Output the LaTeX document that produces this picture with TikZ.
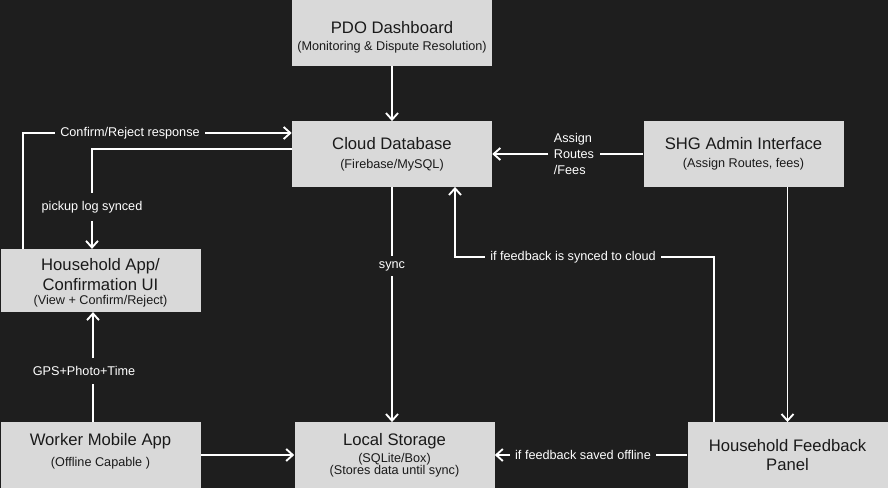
\documentclass[tikz,border=0pt]{standalone}
\usepackage{fontspec}
\setmainfont{Liberation Sans}
\usetikzlibrary{arrows.meta}
\definecolor{bgcol}{HTML}{1E1E1E}
\definecolor{boxcol}{HTML}{D9D9D9}
\definecolor{inkcol}{HTML}{1A1A1A}
\newcommand{\boxtitle}{\fontsize{12.5}{15}\selectfont}
\newcommand{\boxnote}{\fontsize{9.5}{12}\selectfont}
\tikzset{
  block/.style={fill=boxcol, text=inkcol, minimum width=150pt, minimum height=49pt, inner sep=0pt, align=center, font=\boxnote},
  lbl/.style={text=white, inner sep=4pt, font=\boxnote},
  link/.style={draw=white, line width=1.4pt},
  arr/.style={link, -{Straight Barb[length=5pt,width=9pt]}},
}
\begin{document}
\begin{tikzpicture}[x=0.75pt,y=-0.75pt]
\fill[bgcol] (0,0) rectangle (888,488);

\draw (392,33) node(PDO)[block,text height=27.5pt]{{\boxtitle PDO Dashboard}\\[0.5pt](Monitoring \& Dispute Resolution)};
\draw (392,154) node(CLOUD)[block]{{\boxtitle Cloud Database}\\[2pt](Firebase/MySQL)};
\draw (743.5,154) node(SHG)[block]{{\boxtitle SHG Admin Interface}\\[1.5pt](Assign Routes, fees)};
\draw (100.5,280.5) node(HH)[block,minimum height=47pt,text height=38.5pt]{{\boxtitle Household App/}\\[3.5pt]{\boxtitle Confirmation UI}\\[-1.5pt](View + Confirm/Reject)};
\draw (100.5,455) node(WORKER)[block,text height=19.5pt]{{\boxtitle Worker Mobile App}\\[4pt](Offline Capable )};
\draw (394.5,455) node(LOCAL)[block]{{\boxtitle Local Storage}\\[1pt](SQLite/Box)\\[-3pt](Stores data until sync)};
\draw (787.5,455) node(FEED)[block]{{\boxtitle Household Feedback}\\[2.5pt]{\boxtitle Panel}};

\coordinate (CRTURN) at (23,133);
\coordinate (PLTURN) at (92,149);
\coordinate (FSTURNA) at (714,257);
\coordinate (FSTURNB) at (455,257);
\coordinate (GPSX) at (93,372);

\draw (130,133) node(CRLBL)[lbl]{Confirm/Reject response};
\draw (92,207) node(PLLBL)[lbl,inner ysep=6pt]{pickup log synced};
\draw (574,154) node(ARLBL)[lbl,align=left]{Assign\\Routes\\/Fees};
\draw (392,266) node(SYNCLBL)[lbl]{sync};
\draw (573,257) node(FSLBL)[lbl]{if feedback is synced to cloud};
\draw (84,371) node(GPSLBL)[lbl,inner ysep=6pt]{GPS+Photo+Time};
\draw (583,455) node(FOLBL)[lbl]{if feedback saved offline};

\draw[arr] (PDO) -- (CLOUD);
\draw[arr] (HH.north -| CRTURN) -- (CRTURN) -- (CRLBL) -- (CLOUD.west |- CRTURN);
\draw[arr] (CLOUD.west |- PLTURN) -- (PLTURN) -- (PLLBL) -- (HH.north -| PLTURN);
\draw[arr] (SHG.west) -- (ARLBL) -- (CLOUD.east);
\draw[arr] (CLOUD.south) -- (SYNCLBL) -- (CLOUD.south |- LOCAL.north);
\draw[arr] (FEED.north -| FSTURNA) -- (FSTURNA) -- (FSLBL) -- (FSTURNB) -- (CLOUD.south -| FSTURNB);
\draw[arr] (SHG.south -| FEED.north) -- (FEED.north);
\draw[link] (WORKER.north -| GPSX) -- (GPSLBL.south -| GPSX);
\draw[arr] (GPSLBL.north -| GPSX) -- (HH.south -| GPSX);
\draw[arr] (WORKER.east) -- (LOCAL.west);
\draw[arr] (FEED.west) -- (FOLBL) -- (LOCAL.east);

\end{tikzpicture}
\end{document}
